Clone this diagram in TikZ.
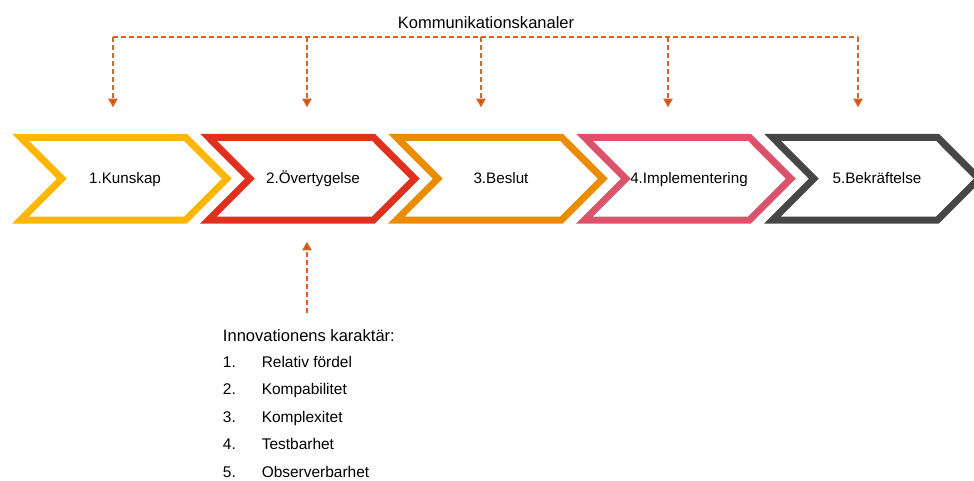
\documentclass[tikz,border=0pt]{standalone}
\usepackage{fontspec}
\setmainfont{Liberation Sans}
\usetikzlibrary{arrows.meta}
\definecolor{ChYellow}{HTML}{FFB600}
\definecolor{ChRed}{HTML}{E0301E}
\definecolor{ChOrange}{HTML}{EB8C00}
\definecolor{ChRose}{HTML}{DB536A}
\definecolor{ChGrey}{HTML}{464646}
\definecolor{ChArrow}{HTML}{D04A02}

\begin{document}
\begin{tikzpicture}[x=0.75pt,y=-0.75pt,
  chevron/.style={line width=5.25pt,line join=miter},
  chtext/.style={inner sep=0pt,anchor=base,font=\fontsize{11.4}{13}\selectfont},
  channel/.style={ChArrow!85,line width=1.3pt,dash pattern=on 3.8pt off 2.2pt},
  channelarrow/.style={channel,-{Triangle[length=6.5pt,width=7pt,fill=ChArrow]}},
  headtext/.style={inner sep=0pt,font=\fontsize{12.4}{14}\selectfont},
  listtext/.style={inner sep=0pt,anchor=base west,font=\fontsize{11.6}{13}\selectfont}]
\path[use as bounding box] (0,0) rectangle (974,481);
\clip (0,0) rectangle (974,481);
% kanaler
\node[headtext,anchor=base] (kanaler) at (486,28.3) {Kommunikationskanaler};
\coordinate (bus1) at (113,37);
\coordinate (bus2) at (307,37);
\coordinate (bus3) at (481,37);
\coordinate (bus4) at (668,37);
\coordinate (bus5) at (858,37);
\coordinate (in1) at (113,107.3);
\coordinate (in2) at (307,107.3);
\coordinate (in3) at (481,107.3);
\coordinate (in4) at (668,107.3);
\coordinate (in5) at (858,107.3);
\draw[channel] (bus1) -- (bus5);
\draw[channelarrow] (bus1) -- (in1);
\draw[channelarrow] (bus2) -- (in2);
\draw[channelarrow] (bus3) -- (in3);
\draw[channelarrow] (bus4) -- (in4);
\draw[channelarrow] (bus5) -- (in5);
% steps
\draw[chevron,ChYellow] (20.5,137.3) -- (185.5,137.3) -- (226.8,178.7) -- (185.5,220) -- (20.5,220) -- (61.8,178.7) -- cycle;
\node[chtext] (kunskap) at (125,184) {1.Kunskap};
\draw[chevron,ChRed] (208.5,137.3) -- (373.5,137.3) -- (414.8,178.7) -- (373.5,220) -- (208.5,220) -- (249.8,178.7) -- cycle;
\node[chtext] (overtygelse) at (313,184) {2.Övertygelse};
\draw[chevron,ChOrange] (396.5,137.3) -- (561.5,137.3) -- (602.8,178.7) -- (561.5,220) -- (396.5,220) -- (437.8,178.7) -- cycle;
\node[chtext] (beslut) at (501,184) {3.Beslut};
\draw[chevron,ChRose] (584.5,137.3) -- (749.5,137.3) -- (790.8,178.7) -- (749.5,220) -- (584.5,220) -- (625.8,178.7) -- cycle;
\node[chtext] (implementering) at (689,184) {4.Implementering};
\draw[chevron,ChGrey] (772.5,137.3) -- (937.5,137.3) -- (978.8,178.7) -- (937.5,220) -- (772.5,220) -- (813.8,178.7) -- cycle;
\node[chtext] (bekraftelse) at (877,184) {5.Bekräftelse};
% karaktar
\coordinate (traitsfoot) at (307,313);
\coordinate (traitstip) at (307,241.7);
\draw[channelarrow] (traitsfoot) -- (traitstip);
\node[headtext,anchor=base west] (traits) at (222.7,341) {Innovationens karaktär:};
\node[listtext] (num1) at (222.7,367) {1.};
\node[listtext] (item1) at (261.5,367) {Relativ fördel};
\node[listtext] (num2) at (222.7,394.5) {2.};
\node[listtext] (item2) at (261.5,394.5) {Kompabilitet};
\node[listtext] (num3) at (222.7,422) {3.};
\node[listtext] (item3) at (261.5,422) {Komplexitet};
\node[listtext] (num4) at (222.7,449.5) {4.};
\node[listtext] (item4) at (261.5,449.5) {Testbarhet};
\node[listtext] (num5) at (222.7,477) {5.};
\node[listtext] (item5) at (261.5,477) {Observerbarhet};
\end{tikzpicture}
\end{document}
